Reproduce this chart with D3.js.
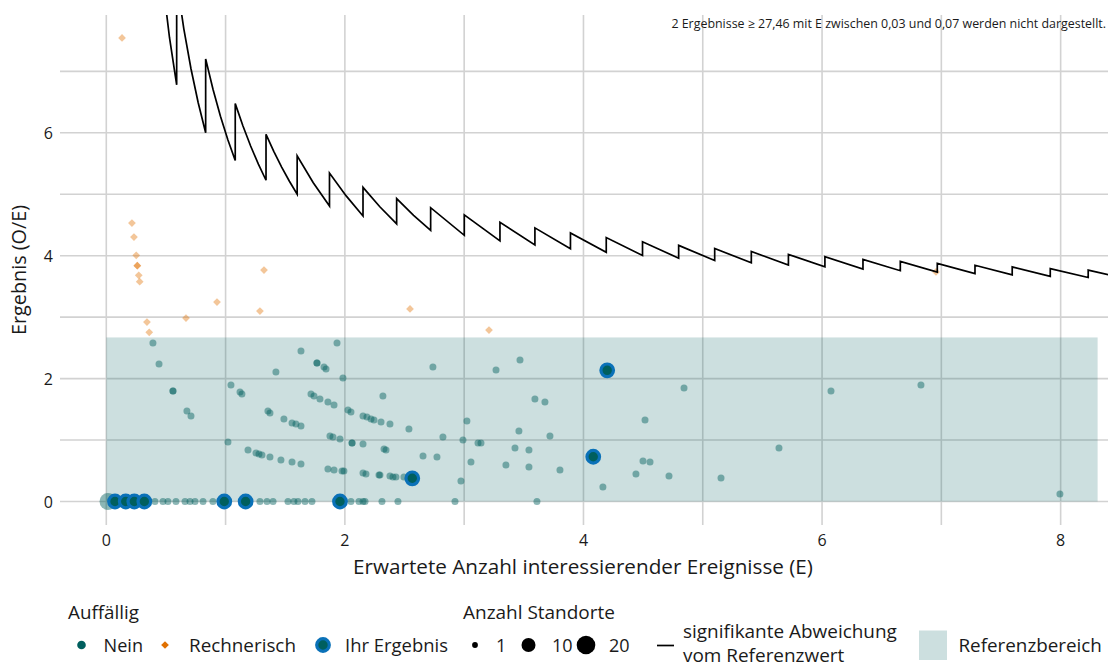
<!DOCTYPE html>
<html><head><meta charset="utf-8">
<script src="https://cdn.jsdelivr.net/npm/d3@7"></script>
<style>
body{margin:0;background:#fff}
svg{display:block}
text{font-family:"Open Sans",Lato,sans-serif;fill:#1a1a1a}
</style>
</head><body>
<svg id="c" width="1112" height="672"></svg>
<script>
// ---------------- data ----------------
const xTicks = [0, 2, 4, 6, 8];
const yTicks = [0, 2, 4, 6];
const xGrid = [0, 1, 2, 3, 4, 5, 6, 7, 8];
const yGrid = [0, 1, 2, 3, 4, 5, 6, 7];
const refLow = 0, refHigh = 2.67, refEStart = 0, refEEnd = 8.31;

// Auffällig: Nein
const neinE = [0.014,0.408,0.475,0.517,0.584,0.660,0.702,0.744,0.811,0.894,1.288,1.347,1.398,1.523,1.573,1.607,1.666,1.724,2.051,2.118,2.152,2.169,2.311,2.445,2.923,3.610,
 0.391,0.442,0.559,0.559,0.676,0.710,1.045,1.121,1.137,1.422,1.355,1.372,1.489,1.557,1.590,1.632,1.020,1.188,1.255,1.280,1.305,1.372,1.464,1.557,1.632,1.632,
 1.766,1.766,1.825,1.842,1.934,1.984,1.716,1.741,1.791,1.858,1.909,2.026,2.051,1.875,1.900,1.959,2.060,2.060,1.858,1.909,1.976,1.992,
 2.738,3.267,3.468,2.319,2.152,2.185,2.219,2.244,2.303,2.378,2.537,3.023,3.593,3.677,4.843,4.516,2.152,2.328,2.345,2.822,2.990,3.116,3.141,
 3.459,3.719,3.426,3.543,2.655,2.772,3.057,2.152,2.177,2.286,2.294,2.378,2.403,2.428,2.495,2.973,3.350,3.543,3.803,4.499,4.558,4.440,4.717,4.163,
 6.075,6.829,5.639,5.153,7.994];
const neinY = [0,0,0,0,0,0,0,0,0,0,0,0,0,0,0,0,0,0,0,0,0,0,0,0,0,0,
 2.579,2.238,1.798,1.798,1.473,1.391,1.896,1.782,1.749,2.107,1.473,1.440,1.343,1.277,1.261,1.229,0.968,0.838,0.789,0.773,0.757,0.724,0.675,0.643,0.610,2.449,
 2.254,2.254,2.189,2.156,2.579,2.010,1.749,1.717,1.668,1.619,1.570,1.489,1.456,1.066,1.050,1.017,0.952,0.952,0.529,0.513,0.496,0.496,
 2.189,2.140,2.303,1.717,1.391,1.375,1.343,1.326,1.294,1.261,1.180,1.310,1.668,1.619,1.847,1.326,0.936,0.854,0.838,1.050,1.001,0.952,0.952,
 1.147,1.066,0.871,0.838,0.740,0.724,0.643,0.464,0.448,0.431,0.431,0.415,0.399,0.399,0.399,0.334,0.594,0.561,0.513,0.659,0.643,0.448,0.415,0.236,
 1.798,1.896,0.871,0.382,0.122];
const neinN = neinE.map((e, i) => i === 0 ? 17 : 1);

// Auffällig: Rechnerisch
const rechE = [0.132,0.215,0.232,0.251,0.260,0.260,0.272,0.280,0.341,0.360,0.668,0.928,1.322,1.288,2.546,3.208,6.955];
const rechY = [7.543,4.532,4.304,4.006,3.837,3.837,3.681,3.577,2.921,2.753,2.986,3.246,3.767,3.100,3.133,2.791,3.735];

// Ihr Ergebnis
const ihrE = [0.073,0.163,0.235,0.319,0.989,1.168,1.959,2.565,4.082,4.199];
const ihrY = [0,0,0,0,0,0,0,0.378,0.729,2.135];

// signifikante Abweichung vom Referenzwert (vertices)
const sigLine = [[0.47,8.511],[0.53,7.547],[0.590,6.780],[0.590,8.475],[0.65,7.692],[0.71,7.042],[0.77,6.494],[0.833,6.002],
 [0.833,7.203],[0.895,6.704],[0.957,6.270],[1.019,5.888],[1.081,5.550],[1.081,6.475],[1.145,6.114],[1.21,5.785],[1.275,5.490],[1.339,5.228],
 [1.339,5.975],[1.404,5.698],[1.47,5.442],[1.535,5.212],[1.600,5.000],[1.600,5.625],[1.735,5.187],[1.871,4.810],[1.871,5.345],[2.011,4.973],
 [2.152,4.647],[2.152,5.112],[2.293,4.797],[2.434,4.519],[2.434,4.930],[2.576,4.658],[2.719,4.413],[2.719,4.781],[3.001,4.332],[3.001,4.665],
 [3.300,4.242],[3.300,4.545],[3.593,4.175],[3.593,4.453],[3.891,4.112],[3.891,4.369],[4.191,4.056],[4.191,4.295],[4.495,4.004],[4.495,4.227],
 [4.798,3.960],[4.798,4.168],[5.100,3.922],[5.100,4.118],[5.407,3.884],[5.407,4.069],[5.718,3.848],[5.718,4.022],[6.024,3.818],[6.024,3.984],
 [6.343,3.784],[6.343,3.941],[6.656,3.756],[6.656,3.906],[6.966,3.732],[6.966,3.876],[7.282,3.708],[7.282,3.845],[7.594,3.687],[7.594,3.819],
 [7.913,3.665],[7.913,3.791],[8.231,3.645],[8.231,3.766],[8.40,3.690]];

const legendGroups = ["Nein", "Rechnerisch", "Ihr Ergebnis"];
const legendSizes = [1, 10, 20];
const note = "2 Ergebnisse \u2265 27,46 mit E zwischen 0,03 und 0,07 werden nicht dargestellt.";

// ---------------- chart ----------------
const C_TEAL = "#005f5e", C_BLUE = "#0a71b8", C_ORANGE = "#e07000";
const svg = d3.select("#c");
const P = {l: 60, r: 1108, t: 15, b: 525};
const x = d3.scaleLinear().domain([-0.388, 8.397]).range([P.l, P.r]);
const y = d3.scaleLinear().domain([-0.382, 7.917]).range([P.b, P.t]);
const rS = d3.scaleSqrt().domain([1, 20]).range([3.5, 9]);

// scale font so a text spans the width measured on the reference
function fit(t, w) {
  const cur = t.node().getComputedTextLength();
  const fs = parseFloat(t.attr("font-size"));
  if (cur > 0) t.attr("font-size", (fs * w / cur).toFixed(2));
  return t;
}

svg.append("defs").append("clipPath").attr("id", "clip")
  .append("rect").attr("x", P.l).attr("y", P.t).attr("width", P.r - P.l).attr("height", P.b - P.t);

const grid = svg.append("g");
grid.selectAll(".gx").data(xGrid).join("line")
  .attr("x1", d => x(d)).attr("x2", d => x(d)).attr("y1", P.t).attr("y2", P.b)
  .attr("stroke", "#d2d2d2").attr("stroke-width", 1.6);
grid.selectAll(".gy").data(yGrid).join("line")
  .attr("y1", d => y(d)).attr("y2", d => y(d)).attr("x1", P.l).attr("x2", P.r)
  .attr("stroke", "#d2d2d2").attr("stroke-width", 1.6);

svg.append("rect")
  .attr("x", x(refEStart)).attr("width", x(refEEnd) - x(refEStart))
  .attr("y", y(refHigh)).attr("height", y(refLow) - y(refHigh))
  .attr("fill", C_TEAL).attr("fill-opacity", 0.2);

fit(svg.append("text").attr("x", 1106).attr("y", 28).attr("text-anchor", "end")
  .attr("font-size", 11).text(note), 435);

const plot = svg.append("g").attr("clip-path", "url(#clip)");

const nein = neinE.map((e, i) => ({e, v: neinY[i], n: neinN[i]}));
plot.selectAll(".nein").data(nein).join("circle")
  .attr("cx", d => x(d.e)).attr("cy", d => y(d.v)).attr("r", d => rS(d.n))
  .attr("fill", C_TEAL).attr("fill-opacity", 0.45);

const rech = rechE.map((e, i) => ({e, v: rechY[i]}));
plot.selectAll(".rech").data(rech).join("path")
  .attr("transform", d => `translate(${x(d.e)},${y(d.v)}) rotate(45)`)
  .attr("d", d3.symbol().type(d3.symbolSquare).size(30))
  .attr("fill", C_ORANGE).attr("fill-opacity", 0.4);

plot.append("path").datum(sigLine)
  .attr("d", d3.line().x(d => x(d[0])).y(d => y(d[1])))
  .attr("fill", "none").attr("stroke", "#000").attr("stroke-width", 1.7)
  .attr("stroke-linejoin", "miter");

const ihr = ihrE.map((e, i) => ({e, v: ihrY[i]}));
plot.selectAll(".ihr").data(ihr).join("circle")
  .attr("cx", d => x(d.e)).attr("cy", d => y(d.v)).attr("r", 6.3)
  .attr("fill", C_TEAL).attr("stroke", C_BLUE).attr("stroke-width", 3.2);

// axes labels
svg.selectAll(".xt").data(xTicks).join("text")
  .attr("x", d => x(d)).attr("y", 546).attr("text-anchor", "middle")
  .attr("font-size", 16).attr("fill", "#333").text(d => d);
svg.selectAll(".yt").data(yTicks).join("text")
  .attr("x", 53).attr("y", d => y(d) + 6).attr("text-anchor", "end")
  .attr("font-size", 16).attr("fill", "#333").text(d => d);

fit(svg.append("text").attr("x", 583).attr("y", 574).attr("text-anchor", "middle")
  .attr("font-size", 19).text("Erwartete Anzahl interessierender Ereignisse (E)"), 460);
fit(svg.append("text").attr("transform", "translate(26,270) rotate(-90)").attr("text-anchor", "middle")
  .attr("font-size", 19).text("Ergebnis (O/E)"), 130);

// legend
const L = svg.append("g");
const fs = 17;
fit(L.append("text").attr("x", 68).attr("y", 619).attr("font-size", fs).text("Auffällig"), 71);
L.append("circle").attr("cx", 81.5).attr("cy", 645).attr("r", 4.3).attr("fill", C_TEAL);
fit(L.append("text").attr("x", 103.5).attr("y", 651.5).attr("font-size", fs).text(legendGroups[0]), 39.5);
L.append("path").attr("transform", "translate(165,645) rotate(45)")
  .attr("d", d3.symbol().type(d3.symbolSquare).size(30)).attr("fill", C_ORANGE);
fit(L.append("text").attr("x", 189).attr("y", 651.5).attr("font-size", fs).text(legendGroups[1]), 107);
L.append("circle").attr("cx", 323).attr("cy", 645).attr("r", 6.3)
  .attr("fill", C_TEAL).attr("stroke", C_BLUE).attr("stroke-width", 3.2);
fit(L.append("text").attr("x", 345).attr("y", 651.5).attr("font-size", fs).text(legendGroups[2]), 103);

fit(L.append("text").attr("x", 463).attr("y", 619).attr("font-size", fs).text("Anzahl Standorte"), 152);
const lr = [2.9, 7, 9.3];
const lcx = [475, 528.5, 586];
const ltx = [496, 552, 609];
legendSizes.forEach((s, i) => {
  L.append("circle").attr("cx", lcx[i]).attr("cy", 645).attr("r", lr[i]).attr("fill", "#000");
  L.append("text").attr("x", ltx[i]).attr("y", 651.5).attr("font-size", 18).text(s);
});
L.append("line").attr("x1", 657).attr("x2", 674).attr("y1", 645.5).attr("y2", 645.5)
  .attr("stroke", "#000").attr("stroke-width", 1.7);
const sig1 = fit(L.append("text").attr("x", 683).attr("y", 637.5).attr("font-size", fs).text("signifikante Abweichung"), 214);
L.append("text").attr("x", 683).attr("y", 662).attr("font-size", sig1.attr("font-size")).text("vom Referenzwert");
L.append("rect").attr("x", 919).attr("y", 630.5).attr("width", 28).attr("height", 29.5)
  .attr("fill", C_TEAL).attr("fill-opacity", 0.2);
fit(L.append("text").attr("x", 958.5).attr("y", 651.5).attr("font-size", fs).text("Referenzbereich"), 143.5);
</script>
</body></html>
